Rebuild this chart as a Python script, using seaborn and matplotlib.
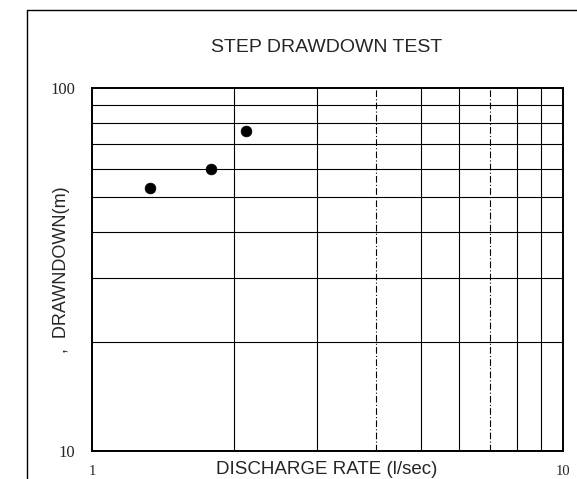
import matplotlib
matplotlib.use("Agg")
import matplotlib.pyplot as plt
from matplotlib.lines import Line2D
import seaborn as sns
import pandas as pd

# Step drawdown test measurements
discharge = [1.33, 1.79, 2.12]      # l/sec
drawdown = [53.0, 60.0, 76.0]       # m

x_ticks = [1, 10]
x_tick_labels = ["1", "10"]
y_ticks = [10, 100]
y_tick_labels = ["10", "100"]

title = "STEP DRAWDOWN TEST"
x_label = "DISCHARGE RATE (l/sec)"
y_label = ",  DRAWNDOWN(m)"

df = pd.DataFrame({"discharge": discharge, "drawdown": drawdown})

sns.set_style("white")
plt.rcParams["font.family"] = ["Liberation Sans", "DejaVu Sans"]

fig = plt.figure(figsize=(5.77, 4.79), dpi=100)
ax = fig.add_axes([92 / 577, 1 - 451 / 479, (563 - 92) / 577, (451 - 88) / 479])

ax.set_xscale("log")
ax.set_yscale("log")
ax.set_xlim(1, 10)
ax.set_ylim(10, 100)

# log grid
for v in range(2, 10):
    style = (0, (6, 2, 1, 2)) if v in (4, 7) else "-"
    ax.axvline(v, color="black", lw=0.8, ls=style, zorder=1)
    ax.axhline(v * 10, color="black", lw=0.8, zorder=1)

sns.scatterplot(data=df, x="discharge", y="drawdown", ax=ax, color="black",
                s=60, edgecolor="black", linewidth=0.5, zorder=3, legend=False)

ax.set_xticks(x_ticks)
ax.set_xticklabels(x_tick_labels, family="Liberation Serif", fontsize=10.5)
ax.set_yticks(y_ticks)
ax.set_yticklabels(y_tick_labels, family="Liberation Serif", fontsize=12)
ax.minorticks_off()
ax.tick_params(axis="x", length=0, pad=10)
ax.tick_params(axis="y", length=0, pad=12)
ax.set_xlabel("")
ax.set_ylabel("")

for s in ax.spines.values():
    s.set_color("black")
    s.set_linewidth(1.4)

fig.text(327 / 577, 1 - 47 / 479, title, ha="center", va="center", fontsize=14)
fig.text(327 / 577, 1 - 469 / 479, x_label, ha="center", va="center", fontsize=13.5)
fig.text(62 / 577, 1 - 270 / 479, y_label, ha="center", va="center",
         rotation=90, fontsize=13)

# outer border
fig.add_artist(Line2D([27 / 577, 1.0], [1 - 10 / 479, 1 - 10 / 479],
                      transform=fig.transFigure, color="black", lw=1.0))
fig.add_artist(Line2D([27 / 577, 27 / 577], [1 - 10 / 479, 0.0],
                      transform=fig.transFigure, color="black", lw=1.0))

fig.savefig("out.png", dpi=100)
